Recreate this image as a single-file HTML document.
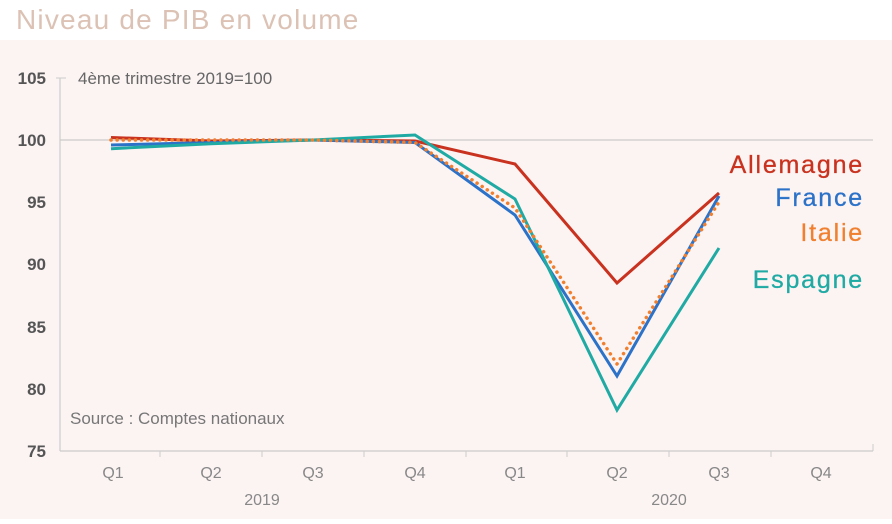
<!DOCTYPE html>
<html><head><meta charset="utf-8"><style>
body{margin:0;width:892px;height:519px;background:#fff;overflow:hidden;font-family:"Liberation Sans",sans-serif}
</style></head><body>
<svg width="892" height="519" xmlns="http://www.w3.org/2000/svg" font-family="Liberation Sans, sans-serif">
<rect x="0" y="0" width="892" height="519" fill="#fff"/>
<text x="16" y="29" font-size="28" letter-spacing="1.2" fill="#dcc2b4">Niveau de PIB en volume</text>
<rect x="0" y="40" width="892" height="479" fill="#fcf3f3"/>
<g fill="#555" font-size="17" text-anchor="end" font-weight="bold">
<text x="46" y="84">105</text><text x="46" y="146">100</text><text x="46" y="208">95</text>
<text x="46" y="270">90</text><text x="46" y="333">85</text><text x="46" y="395">80</text><text x="46" y="457">75</text>
</g>
<line x1="60" y1="78" x2="60" y2="451" stroke="#ccc" stroke-width="1.2"/>
<line x1="56" y1="78" x2="66" y2="78" stroke="#ccc"/>
<line x1="60" y1="140" x2="873" y2="140" stroke="#ccc" stroke-width="1.2"/>
<line x1="60" y1="451" x2="873" y2="451" stroke="#ccc" stroke-width="1.2"/>
<g stroke="#ccc">
<line x1="160" y1="451" x2="160" y2="457"/><line x1="262" y1="451" x2="262" y2="457"/><line x1="364" y1="451" x2="364" y2="457"/><line x1="466" y1="451" x2="466" y2="457"/><line x1="567" y1="451" x2="567" y2="457"/><line x1="669" y1="451" x2="669" y2="457"/><line x1="771" y1="451" x2="771" y2="457"/><line x1="873" y1="444" x2="873" y2="451"/>
</g>
<g fill="#888" font-size="16" text-anchor="middle">
<text x="113" y="478">Q1</text><text x="211" y="478">Q2</text><text x="313" y="478">Q3</text><text x="415" y="478">Q4</text>
<text x="515" y="478">Q1</text><text x="617" y="478">Q2</text><text x="719" y="478">Q3</text><text x="821" y="478">Q4</text>
<text x="262" y="505">2019</text><text x="669" y="505">2020</text>
</g>
<text x="78" y="84" font-size="17" fill="#666">4ème trimestre 2019=100</text>
<text x="70" y="424" font-size="17" fill="#777">Source : Comptes nationaux</text>
<g fill="none" stroke-width="3" stroke-linejoin="miter">
<polyline stroke="#c8321e" points="111,137.5 211,141 313,140 415,141 515,164 617,283 719,193"/>
<polyline stroke="#2b72c8" points="111,145 211,142.5 313,140 415,142.5 515,215 617,376 719,196"/>
<polyline stroke="#20aaa4" points="111,148.7 211,143.7 313,140 415,135 515,199 617,410 719,248"/>
<polyline stroke="#f08030" stroke-dasharray="0.1,6" stroke-linecap="round" stroke-width="3.5" points="111,140 211,140 313,140 415,142.5 515,208 617,364 719,202"/>
</g>
<g font-size="25" text-anchor="end" letter-spacing="1.8">
<text x="864" y="173" fill="#c8321e" stroke="#c8321e" stroke-width="0.3">Allemagne</text>
<text x="864" y="206" fill="#2b72c8" stroke="#2b72c8" stroke-width="0.3">France</text>
<text x="864" y="241" fill="#f08030" stroke="#f08030" stroke-width="0.3">Italie</text>
<text x="864" y="288" fill="#20aaa4" stroke="#20aaa4" stroke-width="0.3">Espagne</text>
</g>
</svg>
</body></html>
